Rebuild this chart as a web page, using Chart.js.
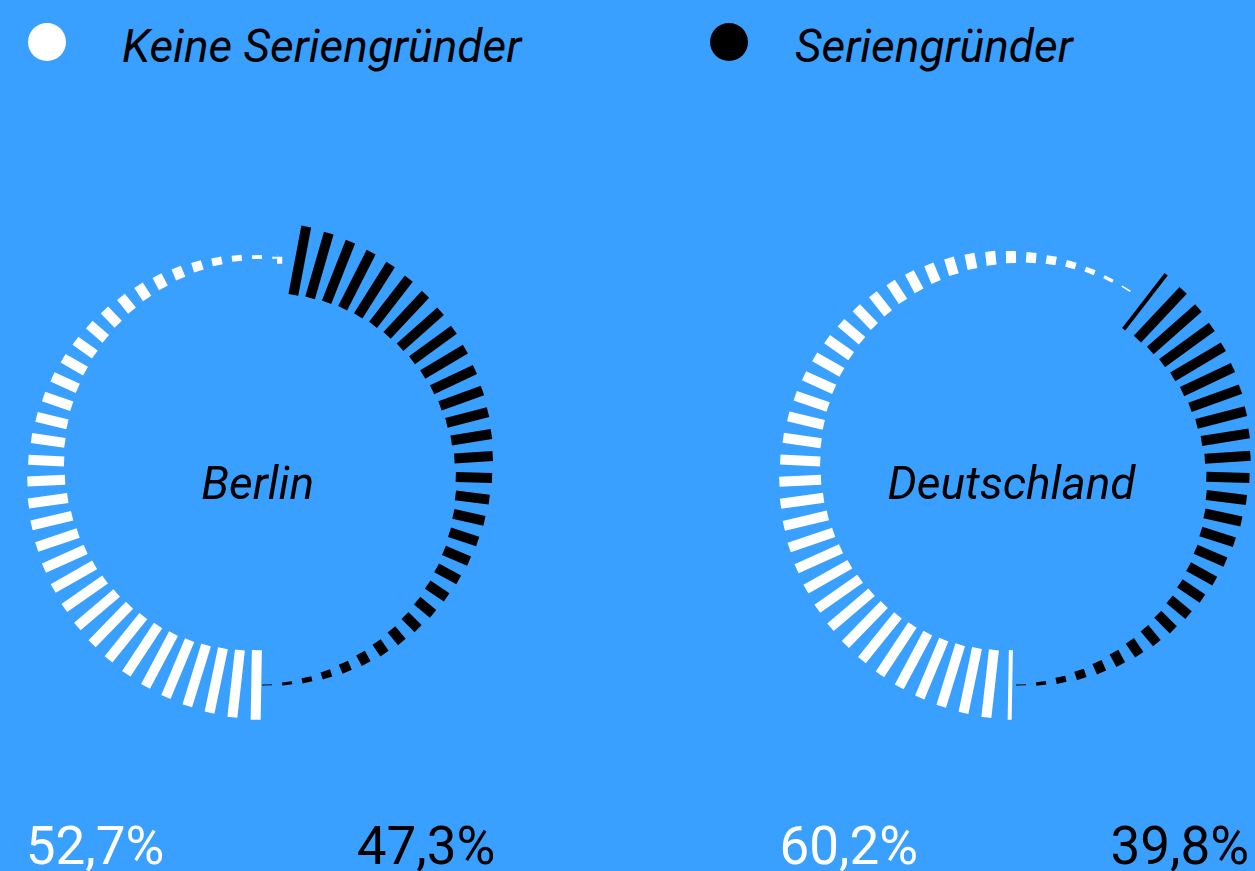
<!DOCTYPE html>
<html>
<head>
<meta charset="utf-8">
<script src="https://cdn.jsdelivr.net/npm/chart.js@4.4.1/dist/chart.umd.min.js"></script>
<style>
  html, body { margin: 0; padding: 0; }
  body {
    width: 1255px; height: 871px; overflow: hidden; position: relative;
    background: #39a0ff; font-family: Roboto, "Noto Sans", sans-serif;
  }
  .txt { position: absolute; line-height: 1; white-space: nowrap; }
  .dot { position: absolute; width: 38px; height: 38px; border-radius: 50%; }
  canvas { position: absolute; }
</style>
</head>
<body>
<script>
// data
var regions = ['Berlin', 'Deutschland'];
var seriesNames = ['Keine Seriengründer', 'Seriengründer'];
var keineValues = [52.7, 60.2];
var serienValues = [47.3, 39.8];
var seriesColors = ['#ffffff', '#000000'];

// layout
var centersX = [259.7, 1013.5];
var centerY = 471;
var half = 262;
var ringRadius = 214;
var maxTick = 70;
var tickStep = 5.4;   // degrees between ticks
var tickWidth = 10;
var firstWidths = [[10, 10], [4, 4]];

function fmt(v) {
    return v.toFixed(1).replace('.', ',') + '%';
}

function addText(str, css) {
    var d = document.createElement('div');
    d.className = 'txt';
    d.textContent = str;
    Object.assign(d.style, css);
    document.body.appendChild(d);
    return d;
}

// legend
var dotX = [28, 710];
var legendX = [122, 795];
seriesNames.forEach(function (name, i) {
    var dot = document.createElement('div');
    dot.className = 'dot';
    dot.style.left = dotX[i] + 'px';
    dot.style.top = '23px';
    dot.style.background = seriesColors[i];
    document.body.appendChild(dot);
    addText(name, { left: legendX[i] + 'px', top: '23px', fontSize: '46px', fontStyle: 'italic', color: '#000' });
});

function tickDatasets(values, widths) {
    var sets = [];
    var start = 180; // degrees, clockwise from top
    values.forEach(function (v, s) {
        var span = v / 100 * 360;
        for (var i = 0; ; i++) {
            var off = i * tickStep + 1;
            if (off >= span) break;
            var len = maxTick * (1 - off / span);
            var a = (start + off) * Math.PI / 180;
            var r1 = ringRadius - len / 2, r2 = ringRadius + len / 2;
            sets.push({
                data: [
                    { x: r1 * Math.sin(a), y: r1 * Math.cos(a) },
                    { x: r2 * Math.sin(a), y: r2 * Math.cos(a) }
                ],
                showLine: true,
                borderColor: seriesColors[s],
                borderWidth: i === 0 ? widths[s] : tickWidth,
                borderCapStyle: 'butt',
                pointRadius: 0,
                clip: false
            });
        }
        start += span;
    });
    return sets;
}

regions.forEach(function (region, k) {
    var cv = document.createElement('canvas');
    cv.width = half * 2;
    cv.height = half * 2;
    cv.style.left = (centersX[k] - half) + 'px';
    cv.style.top = (centerY - half) + 'px';
    document.body.appendChild(cv);

    new Chart(cv.getContext('2d'), {
        type: 'scatter',
        data: { datasets: tickDatasets([keineValues[k], serienValues[k]], firstWidths[k]) },
        options: {
            responsive: false,
            animation: false,
            events: [],
            layout: { padding: 0 },
            plugins: { legend: { display: false }, tooltip: { enabled: false } },
            scales: {
                x: { type: 'linear', display: false, min: -half, max: half },
                y: { type: 'linear', display: false, min: -half, max: half }
            }
        }
    });

    // center label
    var lab = addText(region, { top: (centerY - 11) + 'px', fontSize: '46px', fontStyle: 'italic', color: '#000' });
    lab.style.left = (centersX[k] - 2 - lab.offsetWidth / 2) + 'px';

    // percentages
    addText(fmt(keineValues[k]), { left: (centersX[k] - 234) + 'px', top: '820px', fontSize: '53px', color: seriesColors[0] });
    var p = addText(fmt(serienValues[k]), { top: '820px', fontSize: '53px', color: seriesColors[1] });
    p.style.left = (centersX[k] + 236 - p.offsetWidth) + 'px';
});
</script>
</body>
</html>
